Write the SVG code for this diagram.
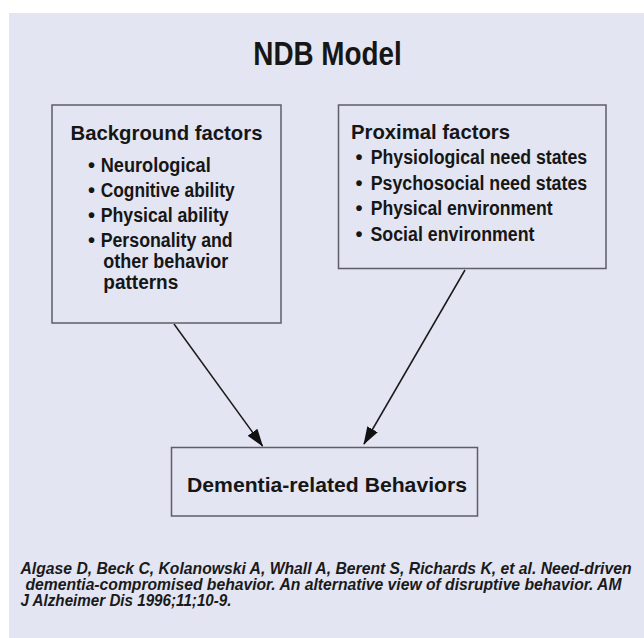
<svg xmlns="http://www.w3.org/2000/svg" width="644" height="638" viewBox="0 0 644 638">
  <style>
    .box { fill: #e3e5f2; stroke: #5e5e66; stroke-width: 1.5; }
    .t { font-family: "Liberation Sans", Arial, sans-serif; font-weight: bold; fill: #161616; }
    .title { font-size: 33px; }
    .head { font-size: 21px; }
    .item { font-size: 20px; }
    .cite { font-family: "Liberation Sans", Arial, sans-serif; font-style: italic; font-weight: bold; font-size: 16.5px; fill: #1a1a1a; }
    .conn { stroke: #1a1a1a; stroke-width: 1.5; fill: none; marker-end: url(#arrow); }
  </style>
  <defs>
    <marker id="arrow" viewBox="0 0 18 12" refX="17" refY="6" markerWidth="18" markerHeight="12" markerUnits="userSpaceOnUse" orient="auto">
      <path d="M0,0 L18,6 L0,12 Z" fill="#111"/>
    </marker>
  </defs>
  <rect x="0" y="0" width="644" height="638" fill="#ffffff"/>
  <rect x="9" y="13" width="635" height="625" fill="#e3e5f2"/>

  <text class="t title" x="253.3" y="65" textLength="148.5" lengthAdjust="spacingAndGlyphs">NDB Model</text>

  <g id="connectors">
    <line class="conn" x1="174" y1="324" x2="262.5" y2="446"/>
    <line class="conn" x1="465" y1="270" x2="364" y2="444"/>
  </g>

  <g id="background-factors">
    <rect class="box" x="52" y="105" width="229" height="218"/>
    <text class="t head" x="70.5" y="140" textLength="192" lengthAdjust="spacingAndGlyphs">Background factors</text>
    <text class="t item" x="88" y="171.5">•</text>
    <text class="t item" x="100.7" y="171.5" textLength="110" lengthAdjust="spacingAndGlyphs">Neurological</text>
    <text class="t item" x="88" y="196.5">•</text>
    <text class="t item" x="100.7" y="196.5" textLength="134" lengthAdjust="spacingAndGlyphs">Cognitive ability</text>
    <text class="t item" x="88" y="221.5">•</text>
    <text class="t item" x="100.7" y="221.5" textLength="128" lengthAdjust="spacingAndGlyphs">Physical ability</text>
    <text class="t item" x="88" y="246.5">•</text>
    <text class="t item" x="100.7" y="246.5" textLength="132" lengthAdjust="spacingAndGlyphs">Personality and</text>
    <text class="t item" x="103.3" y="268" textLength="125" lengthAdjust="spacingAndGlyphs">other behavior</text>
    <text class="t item" x="103.3" y="289" textLength="75" lengthAdjust="spacingAndGlyphs">patterns</text>
  </g>

  <g id="proximal-factors">
    <rect class="box" x="338.5" y="105" width="267.5" height="163.5"/>
    <text class="t head" x="351" y="138.5" textLength="159" lengthAdjust="spacingAndGlyphs">Proximal factors</text>
    <text class="t item" x="355.5" y="164">•</text>
    <text class="t item" x="370.7" y="164" textLength="216.5" lengthAdjust="spacingAndGlyphs">Physiological need states</text>
    <text class="t item" x="355.5" y="190">•</text>
    <text class="t item" x="370.7" y="190" textLength="216.5" lengthAdjust="spacingAndGlyphs">Psychosocial need states</text>
    <text class="t item" x="355.5" y="215">•</text>
    <text class="t item" x="370.7" y="215" textLength="182" lengthAdjust="spacingAndGlyphs">Physical environment</text>
    <text class="t item" x="355.5" y="240.5">•</text>
    <text class="t item" x="370.5" y="240.5" textLength="164" lengthAdjust="spacingAndGlyphs">Social environment</text>
  </g>

  <g id="dementia-behaviors">
    <rect class="box" x="171.5" y="447.5" width="306" height="68.5"/>
    <text class="t head" x="187" y="492" textLength="280" lengthAdjust="spacingAndGlyphs">Dementia-related Behaviors</text>
  </g>

  <text class="cite" x="20.5" y="574" textLength="611" lengthAdjust="spacingAndGlyphs">Algase D, Beck C, Kolanowski A, Whall A, Berent S, Richards K, et al. Need-driven</text>
  <text class="cite" x="25.5" y="590" textLength="596" lengthAdjust="spacingAndGlyphs">dementia-compromised behavior. An alternative view of disruptive behavior. AM</text>
  <text class="cite" x="20.5" y="606" textLength="211" lengthAdjust="spacingAndGlyphs">J Alzheimer Dis 1996;11;10-9.</text>
</svg>
